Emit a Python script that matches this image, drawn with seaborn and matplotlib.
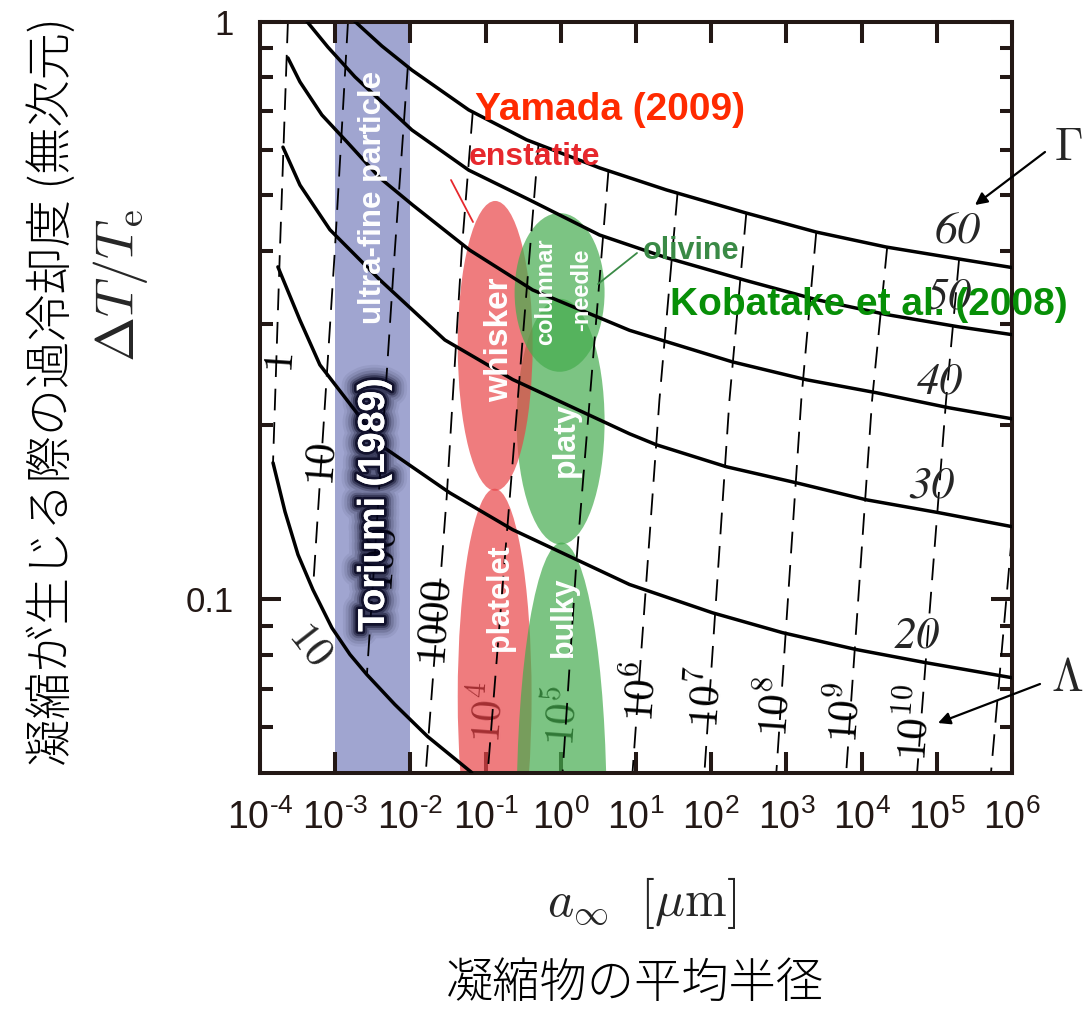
import numpy as np
import pandas as pd
import matplotlib
matplotlib.use("Agg")
import matplotlib.pyplot as plt
import matplotlib.patheffects as pe
from matplotlib.patches import Ellipse
from matplotlib.ticker import FixedLocator, NullLocator, FixedFormatter
import seaborn as sns

# ---------------- data ----------------
# Solid contours of constant Gamma: mean radius a_inf [um] vs supercooling dT/Te
g60_a = [1.83e-3, 4.17e-3, 1.045e-2, 5.96e-2, 0.351, 3.27, 25.4, 293, 2495, 2.12e4, 1.98e5, 1.0e6]
g60_y = [1.0, 0.907, 0.824, 0.703, 0.624, 0.558, 0.511, 0.466, 0.432, 0.407, 0.388, 0.375]
g50_a = [4.21e-4, 8.0e-4, 1.83e-3, 1.045e-2, 5.96e-2, 0.385, 3.27, 25.4, 293, 2495, 2.12e4, 1.98e5, 1.0e6]
g50_y = [1.0, 0.903, 0.802, 0.649, 0.553, 0.491, 0.427, 0.390, 0.356, 0.330, 0.311, 0.296, 0.287]
g40_a = [2.35e-4, 3.40e-4, 6.65e-4, 1.43e-3, 3.93e-3, 1.076e-2, 6.15e-2, 0.422, 8.20, 191, 1837, 1.563e4, 1.456e5, 1.0e6]
g40_y = [0.865, 0.786, 0.689, 0.619, 0.536, 0.481, 0.402, 0.343, 0.292, 0.2575, 0.2398, 0.2277, 0.2144, 0.2052]
g30_a = [2.02e-4, 3.40e-4, 8.51e-4, 3.93e-3, 2.87e-2, 0.229, 8.20, 18.7, 159, 1352, 1.151e4, 1.074e5, 1.0e6]
g30_y = [0.606, 0.521, 0.436, 0.357, 0.281, 0.240, 0.1933, 0.185, 0.1695, 0.159, 0.1486, 0.1411, 0.1335]
g20_a = [1.73e-4, 3.40e-4, 6.26e-4, 4.30e-3, 3.33e-2, 0.229, 8.20, 104, 883, 8470, 7.21e4, 1.0e6]
g20_y = [0.376, 0.304, 0.2544, 0.1836, 0.1528, 0.1319, 0.1060, 0.0947, 0.0875, 0.0818, 0.0776, 0.0731]
g10_a = [1.49e-4, 2.15e-4, 3.20e-4, 5.06e-4, 9.03e-4, 1.57e-3, 2.64e-3, 6.21e-3, 1.70e-2, 6.53e-2]
g10_y = [0.1722, 0.1417, 0.1194, 0.1038, 0.0892, 0.0802, 0.0740, 0.0657, 0.0578, 0.0501]

# Dashed contours of constant Lambda
l0_a, l0_y = [2.35e-4, 1.84e-4, 1.49e-4], [1.0, 0.402, 0.1722]
l1_a, l1_y = [1.48e-3, 9.9e-4, 5.06e-4], [1.0, 0.402, 0.1038]
l2_a, l2_y = [9.22e-3, 6.21e-3, 2.64e-3], [0.831, 0.402, 0.0740]
l3_a, l3_y = [6.75e-2, 4.82e-2, 3.04e-2, 1.60e-2], [0.697, 0.402, 0.1504, 0.0501]
l4_a, l4_y = [0.507, 0.1795, 0.1067], [0.616, 0.117, 0.0501]
l5_a, l5_y = [4.31, 1.62, 1.057], [0.553, 0.117, 0.0501]
l6_a, l6_y = [35.6, 20.5, 8.99], [0.503, 0.2214, 0.0501]
l7_a, l7_y = [293, 175, 81.3], [0.466, 0.2214, 0.0501]
l8_a, l8_y = [2495, 1578, 735], [0.432, 0.2214, 0.0501]
l9_a, l9_y = [2.19e4, 1.38e4, 6240], [0.407, 0.2214, 0.0501]
l10_a, l10_y = [1.98e5, 1.33e5, 5.47e4], [0.388, 0.2214, 0.0501]
l11_a, l11_y = [1.0e6, 5.26e5], [0.1293, 0.0501]

# Observed crystal habits (ranges of a_inf and dT/Te)
habit_names = ["platy", "whisker", "columnar", "platelet", "bulky"]
habit_a_lo = [0.259, 0.0426, 0.243, 0.0426, 0.259]
habit_a_hi = [3.82, 0.422, 3.82, 0.409, 4.06]
habit_y_lo = [0.1243, 0.154, 0.2475, 0.0296, 0.0149]
habit_y_hi = [0.331, 0.489, 0.466, 0.1553, 0.1253]
habit_mineral = ["olivine", "enstatite", "olivine", "enstatite", "olivine"]

# Ultra-fine particle range
ufp_range = [1e-3, 1e-2]

x_ticks = [1e-4, 1e-3, 1e-2, 1e-1, 1e0, 1e1, 1e2, 1e3, 1e4, 1e5, 1e6]
x_ticklabels = [r"$10^{\text{-}4}$", r"$10^{\text{-}3}$", r"$10^{\text{-}2}$", r"$10^{\text{-}1}$",
                r"$10^{0}$", r"$10^{1}$", r"$10^{2}$", r"$10^{3}$", r"$10^{4}$", r"$10^{5}$",
                r"$10^{6}$"]
y_ticks = [0.1, 1.0]
y_ticklabels = ["0.1", "1"]
y_minor = [0.06, 0.07, 0.08, 0.09, 0.2, 0.3, 0.4, 0.5, 0.6, 0.7, 0.8, 0.9]

# ---------------- style ----------------
sns.set_theme(style="ticks")
plt.rcParams["font.family"] = ["Liberation Sans", "DejaVu Sans"]
plt.rcParams["mathtext.fontset"] = "custom"
plt.rcParams["mathtext.rm"] = "Liberation Sans"
plt.rcParams["mathtext.it"] = "Liberation Sans:italic"
plt.rcParams["mathtext.bf"] = "Liberation Sans:bold"

CJK = ["Noto Sans CJK JP", "DejaVu Sans"]
INK = "#231815"

W, H = 1091, 1009
fig = plt.figure(figsize=(W / 100, H / 100), dpi=100)
ax = fig.add_axes([260 / W, 1 - 773 / H, (1012 - 260) / W, (773 - 21.5) / H])
ax.set_xscale("log")
ax.set_yscale("log")
ax.set_xlim(1e-4, 1e6)
ax.set_ylim(0.05, 1.0)


def fxy(px, py):
    return (px / W, 1 - py / H)


# ultra-fine particle band
ax.axvspan(ufp_range[0], ufp_range[1], color="#a0a5d0", lw=0, zorder=0.5)

# Lambda labels sit under the habit patches and the lines
lam_labels = [
    (r"$1$", 282, 363), (r"$10$", 324, 464), (r"$100$", 383, 560), (r"$1000$", 437, 623),
    (r"$10^{4}$", 489, 712), (r"$10^{5}$", 564, 716), (r"$10^{6}$", 643, 692),
    (r"$10^{7}$", 708, 697), (r"$10^{8}$", 777, 707), (r"$10^{9}$", 847, 713),
    (r"$10^{10}$", 917, 723),
]
for s, px, py in lam_labels:
    ax.text(*fxy(px, py), s, transform=fig.transFigure, rotation=86, fontsize=31,
            math_fontfamily="cm", ha="center", va="center", color="black", zorder=1.5)

# habit patches, drawn in axes fraction so they stay elliptical on log axes
def to_axes(a, d):
    return ax.transAxes.inverted().transform(ax.transData.transform((a, d)))

habit_color = {"olivine": (69 / 255, 172 / 255, 78 / 255), "enstatite": (233 / 255, 68 / 255, 72 / 255)}
for name, alo, ahi, ylo, yhi, mineral in zip(habit_names, habit_a_lo, habit_a_hi,
                                             habit_y_lo, habit_y_hi, habit_mineral):
    x0, y0 = to_axes(alo, ylo)
    x1, y1 = to_axes(ahi, yhi)
    ax.add_patch(Ellipse(((x0 + x1) / 2, (y0 + y1) / 2), x1 - x0, y1 - y0,
                         transform=ax.transAxes, facecolor=habit_color[mineral],
                         edgecolor="none", alpha=0.7, zorder=2))

# Lambda contours
dash = (0, (12, 6.5))
for a, y in [(l0_a, l0_y), (l1_a, l1_y), (l2_a, l2_y), (l3_a, l3_y), (l4_a, l4_y),
             (l5_a, l5_y), (l6_a, l6_y), (l7_a, l7_y), (l8_a, l8_y), (l9_a, l9_y),
             (l10_a, l10_y), (l11_a, l11_y)]:
    sns.lineplot(x=a, y=y, ax=ax, sort=False, estimator=None, color="black",
                 lw=1.3, linestyle=dash, zorder=2.5)

# Gamma contours
for a, y in [(g60_a, g60_y), (g50_a, g50_y), (g40_a, g40_y), (g30_a, g30_y),
             (g20_a, g20_y), (g10_a, g10_y)]:
    sns.lineplot(x=a, y=y, ax=ax, sort=False, estimator=None, color="black",
                 lw=2.5, zorder=2.6)

# Gamma labels
for s, px, py in [("60", 958, 233), ("50", 948, 298), ("40", 940, 383),
                  ("30", 931, 487), ("20", 916, 637)]:
    ax.text(*fxy(px, py), s, transform=fig.transFigure, fontsize=33,
            family="STIXGeneral", style="italic", ha="center", va="center", zorder=3)
ax.text(*fxy(310, 645), r"$10$", transform=fig.transFigure, fontsize=31, rotation=-52,
        math_fontfamily="cm", ha="center", va="center", zorder=3)

# axes frame and ticks
for sp in ax.spines.values():
    sp.set_linewidth(2.9)
    sp.set_color(INK)
ax.xaxis.set_major_locator(FixedLocator(x_ticks))
ax.xaxis.set_major_formatter(FixedFormatter(x_ticklabels))
ax.xaxis.set_minor_locator(NullLocator())
ax.yaxis.set_major_locator(FixedLocator(y_ticks))
ax.yaxis.set_major_formatter(FixedFormatter(y_ticklabels))
ax.yaxis.set_minor_locator(FixedLocator(y_minor))
ax.yaxis.set_minor_formatter(FixedFormatter([""] * len(y_minor)))
ax.tick_params(which="both", direction="in", top=True, right=True, width=2.9,
               color=INK, labelcolor=INK)
ax.tick_params(axis="x", which="major", length=15, labelsize=27, pad=19)
ax.tick_params(axis="y", which="major", length=15, labelsize=25, pad=19)
ax.tick_params(axis="y", which="minor", length=9)
ax.grid(False)

# region annotations
ax.text(*fxy(373, 197), "ultra-fine particle", transform=fig.transFigure, rotation=90,
        color="white", fontsize=22.5, fontweight="bold", ha="center", va="center", zorder=5)
glow = [pe.withStroke(linewidth=w, foreground="#05051e", alpha=al)
        for w, al in [(22, 0.06), (18, 0.09), (14, 0.14), (10, 0.22), (7, 0.4), (4, 0.75)]]
ax.text(*fxy(374, 505), "Toriumi (1989)", transform=fig.transFigure, rotation=90,
        color="white", fontsize=27, fontweight="bold", ha="center", va="center",
        zorder=6, path_effects=glow + [pe.Normal()])

ax.text(*fxy(610, 110), "Yamada (2009)", transform=fig.transFigure, color="#ff2a00",
        fontsize=28, fontweight="bold", ha="center", va="center", zorder=5)
ax.text(*fxy(869, 305), "Kobatake et al. (2008)", transform=fig.transFigure,
        color="#078f07", fontsize=28, fontweight="bold", ha="center", va="center",
        zorder=5, clip_on=False)
ax.text(*fxy(534, 157), "enstatite", transform=fig.transFigure, color="#e6282d",
        fontsize=23, fontweight="bold", ha="center", va="center", zorder=5)
ax.text(*fxy(691, 251), "olivine", transform=fig.transFigure, color="#3a8a46",
        fontsize=22, fontweight="bold", ha="center", va="center", zorder=5)
ax.annotate("", xy=fxy(473, 222), xytext=fxy(451, 180), xycoords=fig.transFigure,
            textcoords=fig.transFigure,
            arrowprops=dict(arrowstyle="-", color="#e6282d", lw=1.3, shrinkA=0, shrinkB=0),
            zorder=5, annotation_clip=False)
ax.annotate("", xy=fxy(598, 284), xytext=fxy(637, 253), xycoords=fig.transFigure,
            textcoords=fig.transFigure,
            arrowprops=dict(arrowstyle="-", color="#3a8a46", lw=1.3, shrinkA=0, shrinkB=0),
            zorder=5, annotation_clip=False)

for s, px, py, fs in [("whisker", 500, 340, 24), ("columnar", 546, 292, 17),
                      ("-needle", 582, 290, 17), ("platy", 566, 440, 23),
                      ("platelet", 500, 598, 22), ("bulky", 564, 617, 22)]:
    ax.text(*fxy(px, py), s, transform=fig.transFigure, rotation=90, color="white",
            fontsize=fs, fontweight="bold", ha="center", va="center", zorder=5)

# Gamma / Lambda keys with arrows
fig.text(*fxy(1068, 148), r"$\Gamma$", fontsize=33, math_fontfamily="cm",
         ha="center", va="center")
fig.text(*fxy(1067, 679), r"$\Lambda$", fontsize=33, math_fontfamily="cm",
         ha="center", va="center")
for tail, head in [((1045, 152), (975, 205)), ((1040, 684), (938, 723))]:
    ax.annotate("", xy=fxy(*head), xytext=fxy(*tail), xycoords=fig.transFigure,
                textcoords=fig.transFigure, annotation_clip=False, zorder=6,
                arrowprops=dict(arrowstyle="-|>", color="black", lw=1.6,
                                mutation_scale=18, shrinkA=0, shrinkB=0))

# axis titles
fig.text(*fxy(52, 392), "凝縮が生じる際の過冷却度 (無次元)", rotation=90, fontsize=34,
         family=CJK, fontweight="light", ha="center", va="center", color="black")
fig.text(*fxy(120, 285), r"$\Delta T/T_{\mathrm{e}}$", rotation=90, fontsize=39,
         math_fontfamily="cm", ha="center", va="center")
fig.text(*fxy(642, 903), r"$a_{\infty}\ \ [\mu\mathrm{m}]$", fontsize=36,
         math_fontfamily="cm", ha="center", va="center")
fig.text(*fxy(635, 983), "凝縮物の平均半径", fontsize=34, family=CJK,
         fontweight="light", ha="center", va="center", color="black")

fig.savefig("out.png", dpi=100)
